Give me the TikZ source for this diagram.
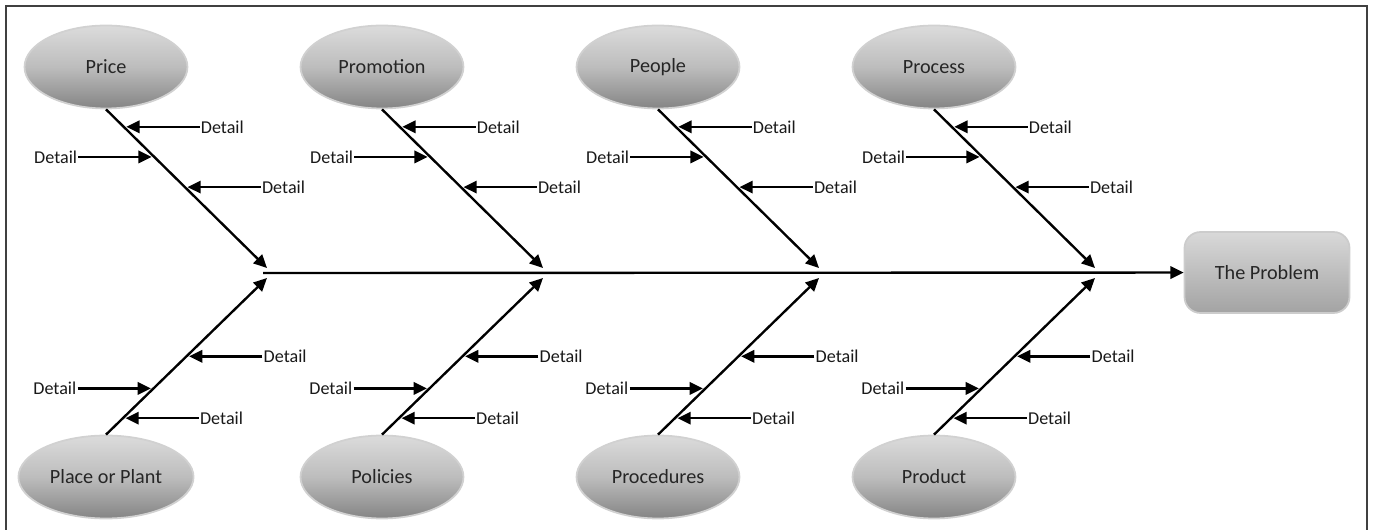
\documentclass[tikz,border=0pt]{standalone}
\usepackage{fontspec}
\setmainfont{Carlito}
\usetikzlibrary{arrows.meta,positioning,shapes.geometric}

\begin{document}
\begin{tikzpicture}[x=0.02cm,y=-0.02cm,
  cause/.style={ellipse,draw=black!18,line width=1pt,top color=black!14,bottom color=black!48,middle color=black!26,
    minimum width=3.26cm,minimum height=1.66cm,font=\fontsize{11.5}{13}\selectfont,text=black!85},
  effect/.style={rectangle,rounded corners=0.32cm,draw=black!20,line width=1pt,top color=black!15,bottom color=black!36,
    minimum width=3.3cm,minimum height=1.62cm,font=\fontsize{11.5}{13}\selectfont,text=black!85},
  detail/.style={font=\fontsize{10.3}{12}\selectfont,inner sep=0.5pt,text=black!90},
  bone/.style={line width=1.35pt,-{Triangle[length=7.5pt,width=7pt]}},
  twig/.style={line width=1.35pt,-{Triangle[length=7.5pt,width=7pt]},shorten >=1.5pt}]
  \useasboundingbox (0,0) rectangle (1373,530);
  \draw[black!75,line width=0.9pt] (6,6) rectangle (1367,560);
%  spine and problem
  \coordinate (tail) at (263,273);
  \node[effect] (prob) at (1267,272.5) {The Problem};
  \draw[bone] (tail) -- (prob);
%  one column: a cause above, a cause below, three details on each bone
  \foreach \i/\cx/\up/\down in {1/106/Price/Place or Plant,2/382/Promotion/Policies,
                                3/658/People/Procedures,4/934/Process/Product}{
    \node[cause] (up\i) at (\cx,67) {\up};
    \node[cause] (dn\i) at (\cx,477) {\down};
    \coordinate (jup\i) at (\cx+161,268);
    \coordinate (jdn\i) at (\cx+161,278);
    \draw[bone] (up\i.south) -- coordinate[pos=.11] (ua\i) coordinate[pos=.3] (ub\i)
      coordinate[pos=.49] (uc\i) (jup\i);
    \draw[bone] (dn\i.north) -- coordinate[pos=.105] (da\i) coordinate[pos=.295] (db\i)
      coordinate[pos=.5] (dc\i) (jdn\i);
    \node[detail,anchor=west] (dua\i) at ([xshift=1.52cm]ua\i) {Detail};
    \node[detail,anchor=east] (dub\i) at ([xshift=-1.52cm]ub\i) {Detail};
    \node[detail,anchor=west] (duc\i) at ([xshift=1.52cm]uc\i) {Detail};
    \node[detail,anchor=west] (dda\i) at ([xshift=1.52cm]da\i) {Detail};
    \node[detail,anchor=east] (ddb\i) at ([xshift=-1.52cm]db\i) {Detail};
    \node[detail,anchor=west] (ddc\i) at ([xshift=1.52cm]dc\i) {Detail};
    \path[twig]
      (dua\i) edge (ua\i)
      (dub\i) edge (ub\i)
      (duc\i) edge (uc\i)
      (dda\i) edge (da\i)
      (ddb\i) edge (db\i)
      (ddc\i) edge (dc\i);
  }
\end{tikzpicture}
\end{document}
